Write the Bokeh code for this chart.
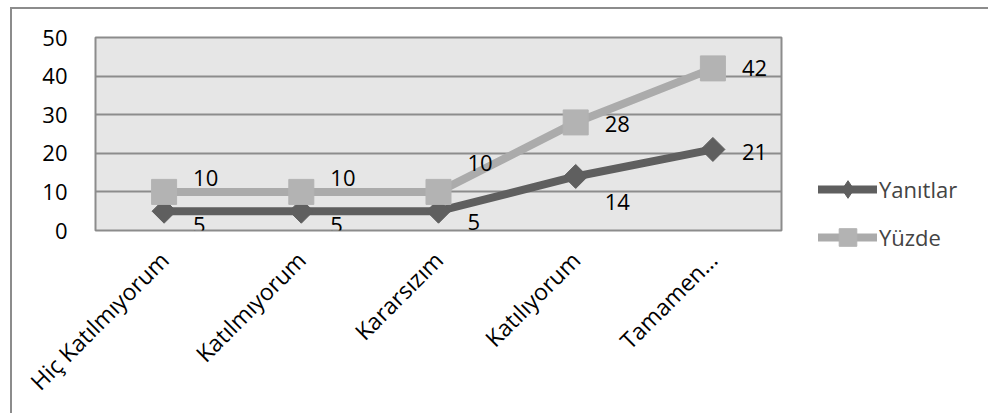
from math import pi
from bokeh.plotting import figure
from bokeh.models import ColumnDataSource, Range1d, Legend, LegendItem, FixedTicker
from bokeh.core.properties import value
from bokeh.embed import file_html
from bokeh.resources import INLINE

# ---- data ----
categories = ["Hiç Katılmıyorum", "Katılmıyorum", "Kararsızım", "Katılıyorum", "Tamamen…"]
yanitlar = [5, 5, 5, 14, 21]
yuzde = [10, 10, 10, 28, 42]
y_ticks = [0, 10, 20, 30, 40, 50]
series_names = ["Yanıtlar", "Yüzde"]

# ---- styles ----
FONT = "Open Sans"
FS = "22px"
DARK = "#5f5f5f"
LIGHT = "#ababab"
GRID = "#8c8c8c"
yanit_label_dy = [14, 14, 11, 26, 3]
yuzde_label_dy = [-14, -14, -29, 2, 0]

src = ColumnDataSource(dict(
    cat=categories,
    yanit=yanitlar,
    yuzde=yuzde,
    yanit_txt=[str(v) for v in yanitlar],
    yuzde_txt=[str(v) for v in yuzde],
    yanit_dy=yanit_label_dy,
    yuzde_dy=yuzde_label_dy,
))

p = figure(x_range=categories, y_range=Range1d(0, 50),
           frame_width=686, frame_height=193,
           output_backend="svg", toolbar_location=None,
           min_border_left=83, min_border_right=201, min_border_top=28, min_border_bottom=183)
p.styles = {"border-top": "2px solid #8c8c8c", "border-left": "2px solid #8c8c8c",
            "margin-left": "10px", "margin-top": "7px"}
p.background_fill_color = "#e6e6e6"
p.border_fill_color = "white"
p.outline_line_color = GRID
p.outline_line_width = 2

p.xgrid.grid_line_color = None
p.ygrid.grid_line_color = GRID
p.ygrid.grid_line_width = 2
p.yaxis.ticker = FixedTicker(ticks=y_ticks)

for ax in (p.xaxis, p.yaxis):
    ax.axis_line_color = None
    ax.major_tick_line_color = None
    ax.minor_tick_line_color = None
    ax.major_label_text_font = FONT
    ax.major_label_text_font_size = FS
    ax.major_label_text_color = "black"
p.yaxis.major_label_standoff = 22
p.xaxis.major_label_text_font_size = "23px"
p.xaxis.major_label_orientation = pi / 4
p.xaxis.major_label_standoff = 19

# Yanıtlar
l1 = p.line("cat", "yanit", source=src, line_color=DARK, line_width=8,
            line_cap="round", line_join="round")
d_leg = p.scatter("cat", "yanit", source=src, marker="diamond", size=10,
                  fill_color=DARK, line_color=DARK)
p.scatter("cat", "yanit", source=src, marker="square", angle=pi / 4, size=17,
          fill_color=DARK, line_color=DARK)

# Yüzde
l2 = p.line("cat", "yuzde", source=src, line_color=LIGHT, line_width=8,
            line_cap="round", line_join="round")
s2 = p.scatter("cat", "yuzde", source=src, marker="square", size=25,
               fill_color="#b3b3b3", line_color="#b3b3b3")

# data labels
p.text("cat", "yanit", text="yanit_txt", source=src, x_offset=29, y_offset="yanit_dy",
       text_font=value(FONT), text_font_size=FS, text_align="left",
       text_baseline="middle", text_color="black")
p.text("cat", "yuzde", text="yuzde_txt", source=src, x_offset=29, y_offset="yuzde_dy",
       text_font=value(FONT), text_font_size=FS, text_align="left",
       text_baseline="middle", text_color="black")

legend = Legend(items=[LegendItem(label=series_names[0], renderers=[l1, d_leg]),
                       LegendItem(label=series_names[1], renderers=[l2, s2])],
                location=(37, -29), glyph_width=59, glyph_height=44, spacing=4,
                padding=0, margin=0, label_standoff=2,
                label_text_font=FONT, label_text_font_size=FS,
                border_line_color=None, background_fill_alpha=0)
p.add_layout(legend, "right")

open("out.html", "w").write(file_html(p, INLINE))
